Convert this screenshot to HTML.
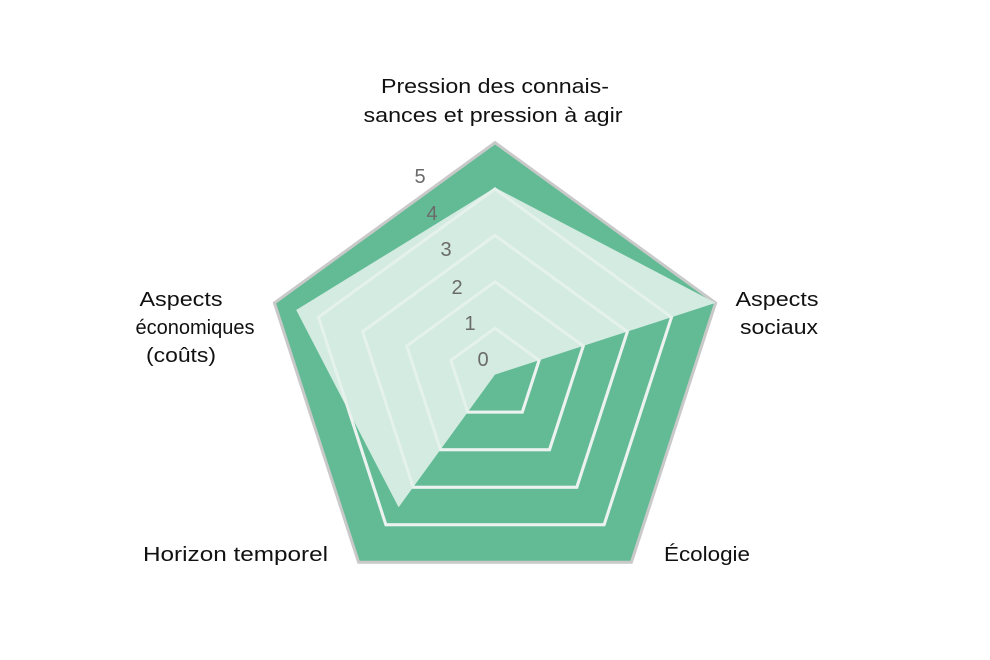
<!DOCTYPE html>
<html><head><meta charset="utf-8"><style>
html,body{margin:0;padding:0;background:#fff;width:990px;height:660px;overflow:hidden}
text{font-family:"Liberation Sans",sans-serif}
</style></head><body>
<svg width="990" height="660" viewBox="0 0 990 660" xmlns="http://www.w3.org/2000/svg">
<g id="g"></g>
<g font-size="20" fill="#111">
<text x="495" y="93" text-anchor="middle" textLength="228" lengthAdjust="spacingAndGlyphs">Pression des connais-</text>
<text x="493" y="122" text-anchor="middle" textLength="259" lengthAdjust="spacingAndGlyphs">sances et pression à agir</text>
<text x="777" y="306" text-anchor="middle" textLength="83" lengthAdjust="spacingAndGlyphs">Aspects</text>
<text x="779" y="334" text-anchor="middle" textLength="78" lengthAdjust="spacingAndGlyphs">sociaux</text>
<text x="181" y="306" text-anchor="middle" textLength="83" lengthAdjust="spacingAndGlyphs">Aspects</text>
<text x="195" y="334" text-anchor="middle">économiques</text>
<text x="181" y="362" text-anchor="middle" textLength="70" lengthAdjust="spacingAndGlyphs">(coûts)</text>
<text x="143" y="561" textLength="185" lengthAdjust="spacingAndGlyphs">Horizon temporel</text>
<text x="664" y="561" textLength="86" lengthAdjust="spacingAndGlyphs">Écologie</text>
</g>
<g font-size="20" fill="#6b6b6b" text-anchor="middle">
<text x="420" y="183">5</text>
<text x="432" y="220">4</text>
<text x="446" y="256">3</text>
<text x="457" y="294">2</text>
<text x="470" y="330">1</text>
<text x="483" y="366">0</text>
</g>
</svg>
<script>
var cx=495,cy=374.6,R=232,ns="http://www.w3.org/2000/svg",g=document.getElementById('g');
function pts(rs){return rs.map(function(r,i){var a=-Math.PI/2+i*2*Math.PI/5;return (cx+r*Math.cos(a)).toFixed(1)+','+(cy+r*Math.sin(a)).toFixed(1)}).join(' ')}
function poly(p,f,s,w){var e=document.createElementNS(ns,'polygon');e.setAttribute('points',p);e.setAttribute('fill',f);e.setAttribute('stroke',s);e.setAttribute('stroke-width',w);e.setAttribute('stroke-linejoin','miter');g.appendChild(e)}
poly(pts([R,R,R,R,R]),'#63bb95','#c9c9c9',3);
for(var k=4;k>=1;k--){var r=R*k/5;poly(pts([r,r,r,r,r]),'none','#e4ece8',3)}
poly(pts([187,R,0,164,209]),'#d3ebe1','none',0);
for(var k=4;k>=1;k--){var r=R*k/5;var e=document.createElementNS(ns,'polygon');e.setAttribute('points',pts([r,r,r,r,r]));e.setAttribute('fill','none');e.setAttribute('stroke','#f2f7f4');e.setAttribute('stroke-width',3);e.setAttribute('opacity','0.6');g.appendChild(e)}
</script>
</body></html>
